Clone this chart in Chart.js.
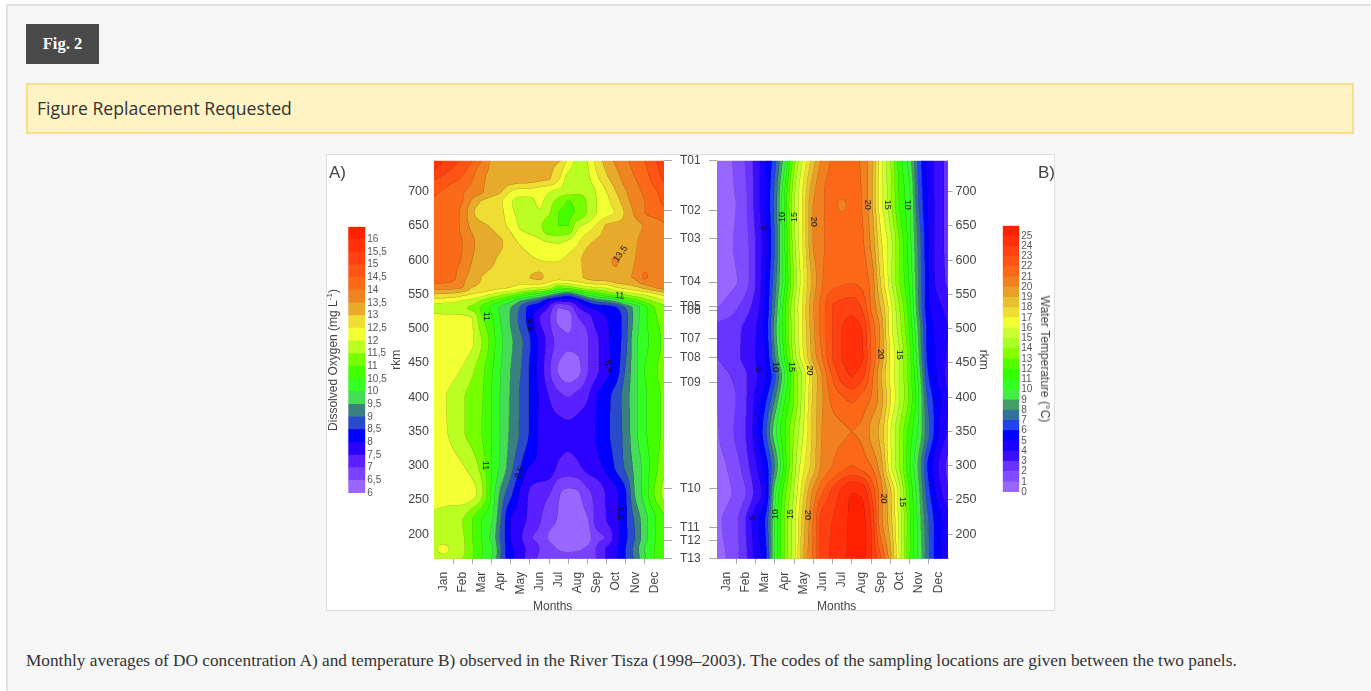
<!DOCTYPE html>
<html><head><meta charset="utf-8">
<script src="https://cdn.jsdelivr.net/npm/chart.js@4"></script>
<style>
html,body{margin:0;padding:0;background:#fff;width:1371px;height:691px;overflow:hidden}
#panel{position:absolute;left:6px;top:4px;width:1370px;height:700px;background:#f7f7f7;border:2px solid #e2e2e2;box-sizing:border-box}
.abs{position:absolute}
#fig{left:26px;top:24px;width:73px;height:40px;background:#4a4a4a;color:#fff;font:bold 16.5px "Liberation Serif";line-height:40px;text-align:center}
#req{left:26px;top:83px;width:1328px;height:51px;box-sizing:border-box;background:#fff3c4;border:2px solid #f7e08c;color:#333;font:17.6px "Open Sans";line-height:47px;padding-left:9px}
#cap{left:26px;top:651px;font:17.25px "Liberation Serif";color:#333;white-space:nowrap}
#figure{left:326px;top:154px;width:729px;height:457px;background:#fff;box-sizing:border-box;border:1px solid #ddd;filter:blur(.4px)}
#holder{left:326px;top:154px;width:729px;height:460px;filter:blur(.55px)}
canvas{position:absolute}
.t{position:absolute;font-family:"Liberation Sans";color:#444;white-space:nowrap}
sup{font-size:8px;line-height:0}
</style></head><body>
<div id="panel" class="abs"></div>
<div id="fig" class="abs">Fig. 2</div>
<div id="req" class="abs">Figure Replacement Requested</div>
<div id="figure" class="abs"></div>
<div id="holder" class="abs">
<canvas id="cA" width="379" height="460" style="left:0;top:0"></canvas>
<canvas id="cB" width="350" height="460" style="left:379px;top:0"></canvas>
<canvas id="lA" width="60" height="280" style="left:14px;top:66px"></canvas>
<canvas id="lB" width="50" height="280" style="left:673px;top:64.5px"></canvas>
<div class="t" style="left:3px;top:9px;font-size:17px">A)</div>
<div class="t" style="left:712px;top:9px;font-size:17px">B)</div>
<div class="t" style="left:7px;top:206px;font-size:12px;transform:translate(-50%,-50%) rotate(-90deg)">Dissolved Oxygen (mg L<sup>-1</sup>)</div>
<div class="t" style="left:719px;top:205px;font-size:12px;transform:translate(-50%,-50%) rotate(90deg)">Water Temperature (°C)</div>
<div class="t" style="left:226.7px;top:451.7px;font-size:12px;transform:translate(-50%,-50%)">Months</div>
<div class="t" style="left:510.7px;top:451.7px;font-size:12px;transform:translate(-50%,-50%)">Months</div>
</div>
<div id="cap" class="abs">Monthly averages of DO concentration A) and temperature B) observed in the River Tisza (1998–2003). The codes of the sampling locations are given between the two panels.</div>
<script>
const months=['Jan','Feb','Mar','Apr','May','Jun','Jul','Aug','Sep','Oct','Nov','Dec'];
const gridCols=[-0.5,0,0.5,1,1.5,2,2.5,3,3.5,4,4.5,5,5.5,6,6.5,7,7.5,8,8.5,9,9.5,10,10.5,11,11.5];
const stationNames=['T01','T02','T03','T04','T05','T06','T07','T08','T09','T10','T11','T12','T13'];
const stationRkm=[745,672,632,568,532,526,485,458,421.6,267,209,190.5,164];
const rkmTicks=[200,250,300,350,400,450,500,550,600,650,700];

const doLevels=[6,6.5,7,7.5,8,8.5,9,9.5,10,10.5,11,11.5,12,12.5,13,13.5,14,14.5,15,15.5,16,16.5];
const doColors=['#9966ff','#7a40ff','#5a20ff','#2a00ff','#0000ff','#2a4acc','#3a8080','#44dd55','#33ff22','#44ff00','#77ff00','#bbff22','#f2ff33','#eedd33','#e8aa2a','#f08420','#fb6a18','#ff5514','#ff4010','#ff300a','#ff2000'];
const doRows=[745,720,700,685,670,650,625,600,575,560,550,540,530,515,480,440,400,350,300,260,220,195,178,164];
const doGrid=[
[16.0,15.5,15.2,14.9,14.5,14.0,13.45,13.4,13.35,13.3,13.3,13.2,13.1,13.05,12.4,11.9,12.0,12.7,13.2,13.6,13.9,14.2,14.5,14.9,15.3],
[15.1,14.9,14.7,14.45,14.05,13.55,13.45,13.4,13.35,13.3,13.25,13.15,13.05,12.6,11.85,11.75,11.9,12.4,12.9,13.3,13.7,14.0,14.3,14.7,15.1],
[14.6,14.45,14.25,14.05,13.8,13.55,13.3,13.05,12.5,12.3,12.3,12.25,12.05,11.85,11.7,11.6,11.7,12.05,12.5,13.0,13.45,13.8,14.1,14.4,14.7],
[14.45,14.3,14.2,14.0,13.4,12.95,12.75,12.55,12.05,11.85,11.85,12.1,11.75,11.3,10.98,11.15,11.55,12.0,12.35,12.75,13.3,13.7,14.0,14.3,14.6],
[14.35,14.3,14.2,13.85,13.1,12.75,12.65,12.6,12.1,11.9,11.8,11.95,11.6,11.0,10.95,11.05,11.55,12.0,12.3,12.55,13.1,13.6,14.0,14.2,14.3],
[14.3,14.25,14.2,13.85,13.35,13.1,12.95,12.7,12.35,11.95,11.8,11.65,11.05,11.0,11.0,11.85,12.15,12.6,13.05,13.15,13.2,13.35,13.55,13.75,13.95],
[14.35,14.3,14.2,14.0,13.6,13.3,13.2,13.05,12.75,12.45,12.3,12.15,12.02,11.98,12.15,12.45,12.9,13.1,13.2,13.3,13.4,13.45,13.75,13.8,13.85],
[14.35,14.3,14.15,13.95,13.5,13.3,13.1,12.9,12.8,12.7,12.6,12.5,12.45,12.48,12.6,12.85,13.2,13.35,13.45,13.52,13.4,13.5,13.8,13.85,13.85],
[14.3,14.25,14.1,13.65,13.3,13.0,12.85,12.8,12.75,12.8,13.0,13.1,12.8,12.7,12.7,12.85,13.1,13.25,13.3,13.4,13.45,13.55,14.05,13.85,13.9],
[13.75,13.7,13.65,13.5,13.0,12.9,12.75,12.6,12.5,12.3,12.1,12.05,11.8,11.1,11.3,11.6,11.9,12.0,12.1,12.5,12.7,12.9,13.2,13.5,13.7],
[13.0,12.95,12.9,12.7,12.5,12.3,12.0,11.7,11.4,11.0,10.6,10.3,9.8,9.2,8.9,9.5,10.2,10.6,11.0,11.3,11.6,11.9,12.1,12.4,12.7],
[12.3,12.2,12.15,11.95,11.8,11.4,11.0,10.6,10.1,9.5,9.1,8.7,8.0,7.6,7.6,8.0,8.6,9.1,9.3,9.6,10.3,10.7,11.2,11.6,11.9],
[11.75,11.65,11.6,11.55,11.4,10.9,10.4,9.9,9.5,8.95,8.3,8.0,7.4,6.5,6.6,7.4,7.9,8.1,8.2,8.45,9.0,9.7,10.3,11.0,11.3],
[12.2,12.2,12.2,12.15,12.0,11.1,10.6,9.95,9.45,8.85,8.25,7.5,7.05,6.4,6.3,6.95,7.2,7.8,8.0,8.2,8.8,9.7,10.35,10.9,11.2],
[12.3,12.3,12.3,12.25,12.05,11.5,10.8,10.1,9.6,9.15,8.55,7.9,7.3,6.8,6.6,6.7,6.95,7.4,7.9,8.2,8.85,9.85,10.3,10.75,11.1],
[12.35,12.3,12.15,11.95,11.6,11.15,10.6,10.0,9.5,9.05,8.45,7.85,7.1,6.45,6.2,6.35,6.95,7.4,7.85,8.25,9.05,9.85,10.5,10.9,11.2],
[12.2,12.05,11.85,11.55,11.35,11.05,10.5,9.95,9.45,8.95,8.45,7.95,7.5,7.15,7.0,7.2,7.45,8.0,8.35,8.7,9.25,9.85,10.4,10.8,11.1],
[12.3,12.1,11.85,11.55,11.35,11.0,10.5,9.95,9.4,8.95,8.45,7.95,7.75,7.65,7.6,7.65,7.75,8.05,8.4,8.7,9.2,9.85,10.4,10.8,11.1],
[12.4,12.35,12.2,12.03,11.75,11.3,10.5,9.9,9.2,8.55,8.0,7.95,7.85,7.45,7.35,7.45,7.65,7.85,8.15,8.6,9.1,9.65,10.2,10.8,11.3],
[12.3,12.3,12.3,12.35,12.2,11.6,10.45,9.35,8.65,7.95,7.45,7.2,7.05,6.55,6.4,6.45,6.85,7.2,7.55,7.9,8.45,9.55,10.2,11.0,11.7],
[11.85,11.75,11.6,11.5,11.0,10.5,10.05,9.0,8.0,7.75,7.35,7.05,6.7,6.45,6.25,6.3,6.45,7.2,7.5,7.85,8.4,9.1,9.8,10.4,10.9],
[11.8,11.75,11.65,11.55,11.0,10.5,9.9,8.9,8.0,7.6,7.05,6.9,6.45,6.3,6.1,6.15,6.3,6.85,7.05,7.8,8.4,9.0,9.8,10.4,10.9],
[11.9,12.15,11.85,11.6,11.1,10.55,10.1,9.0,8.1,7.8,7.25,7.0,6.7,6.48,6.42,6.45,6.6,7.05,7.55,7.9,8.5,9.2,10.0,10.5,11.0],
[11.7,11.75,11.65,11.5,11.05,10.5,10.0,8.95,8.1,7.8,7.2,6.95,6.85,6.7,6.65,6.7,6.85,7.0,7.55,7.95,8.5,9.1,9.9,10.5,10.95]
];
const doLabels=[['11',2.26,518,90],['8,5',4.58,506,-90],['13,5',9.23,609,-55],['11',9.18,548,5],['8,5',8.62,445,70],['11',2.2,300,90],['8,5',3.97,290,-70],['8,5',9.23,230,90]];

const tLevels=[0,1,2,3,4,5,6,7,8,9,10,11,12,13,14,15,16,17,18,19,20,21,22,23,24,25,26];
const tColors=['#9966ff','#7f4dff','#6633ff','#3a0dff','#1a00ff','#0000ff','#2244ee','#33709a','#439f66','#44ee44','#33ff22','#33ff00','#55ff00','#88ff00','#aaff22','#ccff33','#f2ff33','#eee033','#e8c030','#e8a028','#f08020','#fa6818','#ff5514','#ff4010','#ff300a','#ff2000'];
const tRows=[745,700,680,660,625,570,530,500,460,430,400,350,300,260,220,164];
const tGrid=[
[0.2,0.6,1.3,2.1,3.4,4.8,6.6,9.5,13.5,16.3,18.5,20.3,21.1,21.3,21.3,20.9,19.3,16.5,14.2,11.5,9.5,6.6,4.5,3.6,2.6],
[0.3,0.6,1.1,1.9,3.3,4.9,7.2,10.8,14.6,17.2,19.7,20.9,21.3,21.4,21.4,21.0,19.4,16.4,14.4,11.8,10.2,6.8,4.8,3.5,2.7],
[0.3,0.6,1.0,1.85,3.3,4.9,7.3,11.0,14.8,17.3,20.0,20.9,21.3,20.7,21.4,21.0,19.4,16.4,14.5,11.9,10.3,6.9,4.9,3.5,2.7],
[0.35,0.65,1.05,1.8,3.2,4.8,7.2,10.9,14.7,17.3,20.0,20.9,21.3,21.4,21.4,21.1,19.6,16.8,14.8,12.2,10.4,7.2,4.9,3.5,2.7],
[0.4,0.7,1.15,1.7,3.0,4.6,7.0,10.7,14.6,17.2,20.0,20.9,21.3,21.4,21.4,21.2,19.9,17.3,15.5,12.9,10.5,7.6,5.0,3.5,2.7],
[0.5,0.75,0.95,1.65,3.0,4.8,7.5,10.6,14.0,16.9,19.3,21.0,21.6,21.8,21.9,21.7,20.7,18.0,15.5,13.0,10.9,7.8,5.0,3.6,2.8],
[1.0,1.3,1.9,2.6,3.5,5.0,8.0,11.5,14.9,17.3,19.9,21.5,23.0,23.5,23.7,23.0,21.0,19.0,16.5,14.0,11.5,8.0,5.2,4.3,3.6],
[2.2,2.5,2.8,3.2,3.9,5.3,8.4,11.6,14.8,17.3,19.7,21.5,23.0,24.0,24.3,24.0,21.8,19.8,16.6,14.4,11.9,8.6,5.5,4.6,4.0],
[2.0,2.4,2.8,3.3,4.0,5.0,7.9,11.0,14.4,16.9,19.4,21.1,23.0,24.0,24.4,24.2,22.0,19.8,17.0,15.0,12.5,9.0,5.6,4.8,3.8],
[1.3,1.8,2.3,2.9,3.8,4.8,6.8,9.8,13.0,15.4,18.0,20.2,22.0,23.4,24.0,23.4,21.5,19.2,16.8,15.0,12.6,9.6,6.0,4.8,3.6],
[1.0,1.4,2.0,2.9,4.2,5.6,7.8,10.7,13.0,15.6,18.2,20.0,21.3,21.9,22.3,21.8,21.0,19.5,17.2,15.0,12.8,10.0,6.6,5.3,4.0],
[0.9,1.4,2.2,3.0,4.5,6.6,9.5,11.8,14.0,16.0,18.3,20.1,20.7,20.9,21.0,20.9,19.8,18.7,16.2,14.0,11.7,9.7,7.2,5.1,3.8],
[0.7,1.0,1.6,2.6,3.8,5.3,8.0,11.3,14.4,16.8,18.5,20.3,21.0,21.6,22.0,21.6,21.0,19.5,16.4,14.0,11.2,8.7,5.7,4.0,2.7],
[0.4,0.8,1.2,2.0,3.3,4.6,9.5,12.5,15.0,17.8,20.3,22.0,23.3,24.3,25.0,24.9,23.0,20.5,18.3,15.4,12.0,9.2,6.3,4.5,3.2],
[0.8,1.2,1.8,3.0,4.6,6.0,10.0,13.0,15.6,18.5,21.0,23.5,24.0,24.5,25.2,25.3,24.0,20.5,18.5,15.5,12.3,9.5,7.0,5.3,4.5],
[0.7,1.0,1.7,2.8,4.2,5.5,10.0,13.0,15.5,19.0,21.2,23.5,24.2,24.8,25.2,25.3,24.2,22.2,19.5,15.8,12.2,9.8,7.2,5.3,4.6]
];
const tLabels=[['20',7.32,681,90],['15',8.34,681,90],['10',9.4,681,90],['10',2.88,663,-90],['15',3.54,663,-90],['20',4.53,656,90],['5',1.95,646.5,90],['20',8.0,463,90],['15',8.97,462,90],['5',1.67,440.5,90],['10',2.53,444,90],['15',3.37,444,90],['20',4.32,439,90],['20',8.14,252,90],['15',9.14,247,90],['5',1.37,224,-90],['10',2.53,229,-90],['15',3.32,229,-90],['20',4.18,228,90]];

function resample(xs,ys,samples){
  const n=xs.length,d=[],m=new Array(n);
  for(let i=0;i<n-1;i++)d[i]=(ys[i+1]-ys[i])/(xs[i+1]-xs[i]);
  m[0]=d[0];m[n-1]=d[n-2];
  for(let i=1;i<n-1;i++){
    if(d[i-1]*d[i]<=0){m[i]=0;continue}
    const h0=xs[i]-xs[i-1],h1=xs[i+1]-xs[i],w1=2*h1+h0,w2=h1+2*h0;
    m[i]=(w1+w2)/(w1/d[i-1]+w2/d[i]);
  }
  let j=0;
  return samples.map(s=>{
    while(j<n-2&&s>xs[j+1])j++;
    while(j>0&&s<xs[j])j--;
    const h=xs[j+1]-xs[j],t=Math.min(1,Math.max(0,(s-xs[j])/h)),t2=t*t,t3=t2*t;
    return (2*t3-3*t2+1)*ys[j]+(t3-2*t2+t)*h*m[j]+(-2*t3+3*t2)*ys[j+1]+(t3-t2)*h*m[j+1];
  });
}
function hexRgb(h){return [parseInt(h.slice(1,3),16),parseInt(h.slice(3,5),16),parseInt(h.slice(5,7),16)]}
function contourPlugin(rows,grid,levels,colors,labels){
  return {id:'contour',beforeDatasetsDraw(chart){
    const {ctx,chartArea:a,scales:{x,y}}=chart;
    const S=2,L=Math.floor(a.left),T=Math.floor(a.top),W=Math.ceil(a.right)-L,H=Math.ceil(a.bottom)-T;
    const w=W*S,h=H*S,xsP=[],ysP=[];
    for(let i=0;i<w;i++)xsP.push(L+(i+.5)/S);
    for(let i=0;i<h;i++)ysP.push(T+(i+.5)/S);
    const colPx=gridCols.map(c=>x.getPixelForValue(c)),rowPx=rows.map(r=>y.getPixelForValue(r));
    const colSamples=gridCols.map((c,ci)=>resample(rowPx,grid.map(g=>g[ci]),ysP));
    const band=new Int16Array(w*h);
    const step=levels[1]-levels[0],n=colors.length;
    for(let j=0;j<h;j++){
      const vals=resample(colPx,colSamples.map(s=>s[j]),xsP);
      for(let i=0;i<w;i++){let b=Math.floor((vals[i]-levels[0])/step);band[j*w+i]=Math.max(0,Math.min(n-1,b))}
    }
    const off=document.createElement('canvas');off.width=w;off.height=h;
    const oc=off.getContext('2d'),img=oc.createImageData(w,h),rgb=colors.map(hexRgb);
    for(let j=0;j<h;j++)for(let i=0;i<w;i++){
      const b=band[j*w+i];
      const edge=(i<w-1&&band[j*w+i+1]!==b)||(j<h-1&&band[(j+1)*w+i]!==b);
      const f=edge?0.78:1,c=rgb[b],p=(j*w+i)*4;
      img.data[p]=c[0]*f;img.data[p+1]=c[1]*f;img.data[p+2]=c[2]*f;img.data[p+3]=255;
    }
    oc.putImageData(img,0,0);
    ctx.save();
    ctx.beginPath();ctx.rect(a.left,a.top,a.right-a.left,a.bottom-a.top);ctx.clip();
    ctx.imageSmoothingEnabled=true;ctx.imageSmoothingQuality='high';
    ctx.drawImage(off,L,T,W,H);
    ctx.fillStyle='#111';ctx.font='9px "Liberation Sans"';ctx.textAlign='center';ctx.textBaseline='middle';
    labels.forEach(([t,m,r,ang])=>{
      ctx.save();ctx.translate(x.getPixelForValue(m),y.getPixelForValue(r));ctx.rotate(ang*Math.PI/180);ctx.fillText(t,0,0);ctx.restore();
    });
    ctx.restore();
  }};
}
const noPad=s=>{s.paddingTop=0;s.paddingBottom=0;s.paddingLeft=0;s.paddingRight=0};
const axisGrey='#a8a8a8',txt='#444';
const fnt={family:'"Liberation Sans"',size:12.5};
const monthAxis=()=>({type:'category',labels:months,offset:true,
  grid:{offset:true,drawOnChartArea:false,tickLength:5,tickColor:c=>(c.index>0&&c.index<12)?axisGrey:'rgba(0,0,0,0)'},
  border:{color:axisGrey},
  ticks:{autoSkip:false,maxRotation:90,minRotation:90,padding:8,color:txt,font:{family:fnt.family,size:12}},
  afterFit(s){s.height=55.2;noPad(s)}
});
const base={responsive:false,animation:false,events:[],plugins:{legend:{display:false},tooltip:{enabled:false}}};
const rkmPts=(rows)=>rows.flatMap(r=>gridCols.map(c=>({x:Math.max(0,Math.min(11,Math.round(c))),y:r})));

new Chart(document.getElementById('cA'),{type:'scatter',
  data:{labels:months,datasets:[{data:rkmPts(doRows),pointRadius:0,showLine:false}]},
  options:{...base,layout:{padding:{top:6.8}},scales:{
    x:monthAxis(),
    y:{type:'linear',position:'left',min:164,max:745,afterBuildTicks(s){s.ticks=rkmTicks.map(v=>({value:v}))},
      grid:{drawOnChartArea:false,drawTicks:false},border:{display:false},
      ticks:{padding:5,color:txt,font:fnt,autoSkip:false},
      title:{display:true,text:'rkm',color:txt,font:{family:fnt.family,size:12},padding:{top:63,bottom:0}},
      afterFit(s){s.width=108;noPad(s)}},
    y2:{type:'linear',position:'right',min:164,max:745,afterBuildTicks(s){s.ticks=stationRkm.map(v=>({value:v}))},
      grid:{drawOnChartArea:false,tickLength:8,tickColor:axisGrey},border:{display:false},
      ticks:{padding:8,color:txt,font:{family:fnt.family,size:12},autoSkip:false,callback:v=>stationNames[stationRkm.indexOf(v)]},
      afterFit(s){s.width=41;noPad(s)}}
  }},
  plugins:[contourPlugin(doRows,doGrid,doLevels,doColors,doLabels)]
});
new Chart(document.getElementById('cB'),{type:'scatter',
  data:{labels:months,datasets:[{data:rkmPts(tRows),pointRadius:0,showLine:false}]},
  options:{...base,layout:{padding:{top:6.8}},scales:{
    x:monthAxis(),
    y2:{type:'linear',position:'left',min:164,max:745,afterBuildTicks(s){s.ticks=stationRkm.map(v=>({value:v}))},
      grid:{drawOnChartArea:false,tickLength:8,tickColor:axisGrey},border:{display:false},ticks:{display:false,autoSkip:false},
      afterFit(s){s.width=12;noPad(s)}},
    y:{type:'linear',position:'right',min:164,max:745,afterBuildTicks(s){s.ticks=rkmTicks.map(v=>({value:v}))},
      grid:{drawOnChartArea:false,tickLength:4.5,tickColor:axisGrey},border:{display:false},
      ticks:{padding:3,color:txt,font:fnt,autoSkip:false},
      title:{display:true,text:'rkm',color:txt,font:{family:fnt.family,size:12},padding:{top:64,bottom:0}},
      afterFit(s){s.width=107;noPad(s)}}
  }},
  plugins:[contourPlugin(tRows,tGrid,tLevels,tColors,tLabels)]
});
function colorbar(id,levels,colors,padL,barW,fs){
  new Chart(document.getElementById(id),{type:'bar',
    data:{labels:[''],datasets:colors.map((c,i)=>({data:[[levels[i],levels[i+1]]],backgroundColor:c,grouped:false,barPercentage:1,categoryPercentage:1,borderSkipped:false,borderWidth:0}))},
    options:{...base,layout:{padding:{left:padL,top:6.7,bottom:7}},scales:{
      x:{display:false,afterFit:noPad},
      y:{position:'right',min:levels[0],max:levels[levels.length-1],afterBuildTicks(s){s.ticks=levels.slice(0,-1).map(v=>({value:v}))},
        grid:{display:false,drawOnChartArea:false,drawTicks:false},border:{display:false},
        ticks:{padding:2,color:'#555',font:{family:fnt.family,size:fs},autoSkip:false,callback:v=>String(v).replace('.',',')},
        afterFit(s){s.width=s.chart.width-padL-barW;noPad(s)}}
    }}
  });
}
colorbar('lA',doLevels,doColors,8.3,17,10);
colorbar('lB',tLevels,tColors,3.7,16.6,10);
</script>
</body></html>
